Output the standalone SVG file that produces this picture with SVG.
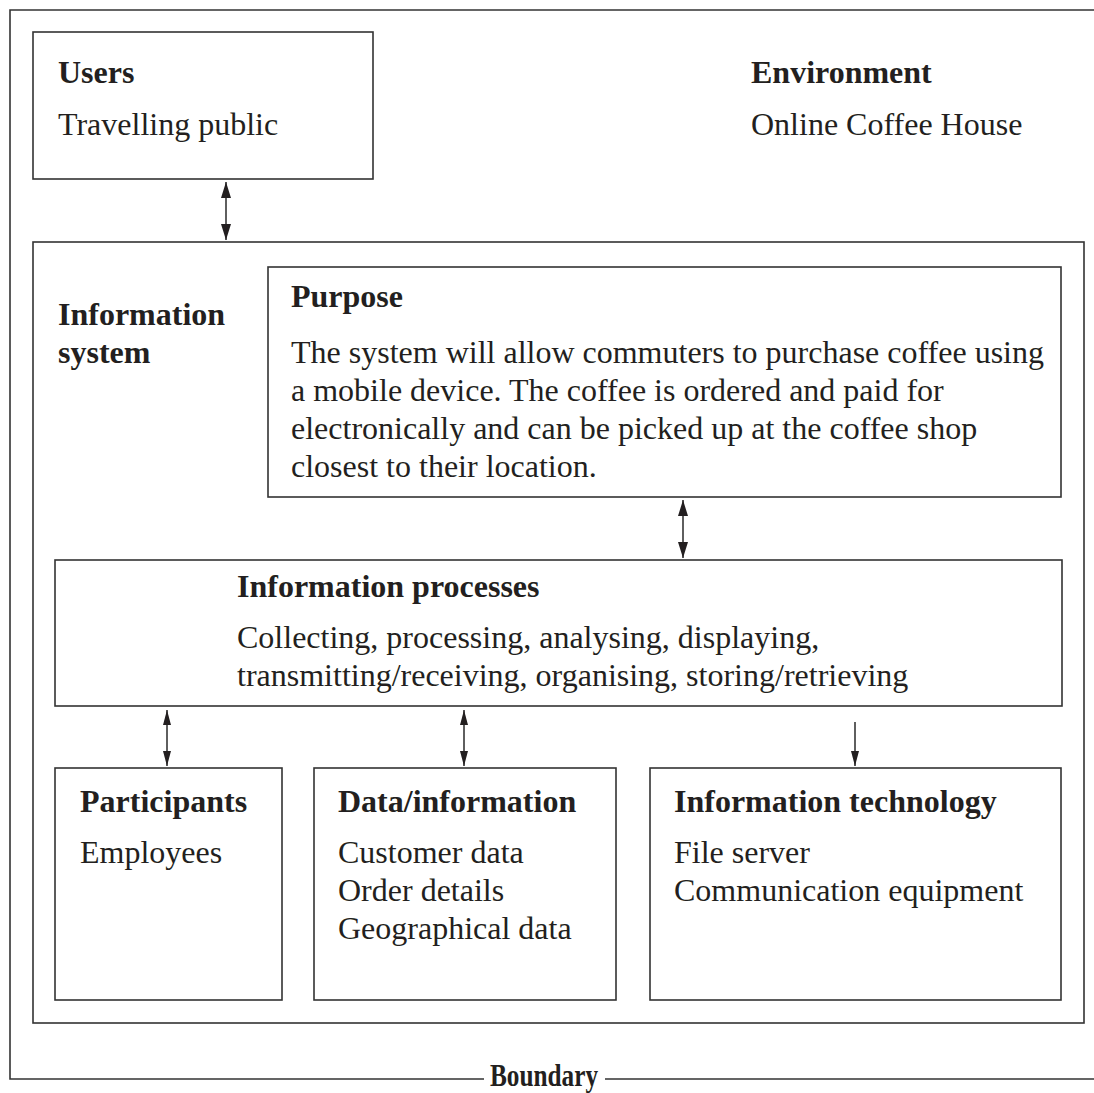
<svg xmlns="http://www.w3.org/2000/svg" width="1094" height="1093" viewBox="0 0 1094 1093">
<defs>
<style>
.box{fill:none;stroke:#333;stroke-width:1.6}
.ln{fill:none;stroke:#2a2a2a;stroke-width:1.5}
text{font-family:"Liberation Serif","Times New Roman",serif;font-size:32px;fill:#231f20}
.b{font-weight:bold}
</style>
<marker id="ah" viewBox="0 0 16 10" refX="16" refY="5" markerWidth="16" markerHeight="10" markerUnits="userSpaceOnUse" orient="auto-start-reverse">
<path d="M0,0 L16,5 L0,10 Z" fill="#231f20"/>
</marker>
<marker id="as" viewBox="0 0 15 8" refX="15" refY="4" markerWidth="15" markerHeight="8" markerUnits="userSpaceOnUse" orient="auto-start-reverse">
<path d="M0,0 L15,4 L0,8 Z" fill="#231f20"/>
</marker>
</defs>
<rect width="1094" height="1093" fill="#fff"/>
<g id="boundary">
<path class="box" d="M1094,10 H10 V1079 H484 M605,1079 H1094"/>
<text class="b" x="490" y="1086" textLength="108" lengthAdjust="spacingAndGlyphs">Boundary</text>
</g>
<g id="users">
<rect class="box" x="33" y="32" width="340" height="147"/>
<text class="b" x="58" y="83">Users</text>
<text x="58" y="135">Travelling public</text>
</g>
<g id="environment">
<text class="b" x="751" y="83">Environment</text>
<text x="751" y="135">Online Coffee House</text>
</g>
<g id="information-system">
<rect class="box" x="33" y="242" width="1051" height="781"/>
<text class="b" x="58" y="325">Information</text>
<text class="b" x="58" y="363">system</text>
</g>
<g id="purpose">
<rect class="box" x="268" y="267" width="793" height="230"/>
<text class="b" x="291" y="307">Purpose</text>
<text x="291" y="363">The system will allow commuters to purchase coffee using</text>
<text x="291" y="401">a mobile device. The coffee is ordered and paid for</text>
<text x="291" y="439">electronically and can be picked up at the coffee shop</text>
<text x="291" y="477">closest to their location.</text>
</g>
<g id="processes">
<rect class="box" x="55" y="560" width="1007" height="146"/>
<text class="b" x="237" y="597">Information processes</text>
<text x="237" y="648">Collecting, processing, analysing, displaying,</text>
<text x="237" y="686">transmitting/receiving, organising, storing/retrieving</text>
</g>
<g id="participants">
<rect class="box" x="55" y="768" width="227" height="232"/>
<text class="b" x="80" y="812">Participants</text>
<text x="80" y="863">Employees</text>
</g>
<g id="data">
<rect class="box" x="314" y="768" width="302" height="232"/>
<text class="b" x="338" y="812">Data/information</text>
<text x="338" y="863">Customer data</text>
<text x="338" y="901">Order details</text>
<text x="338" y="939">Geographical data</text>
</g>
<g id="technology">
<rect class="box" x="650" y="768" width="411" height="232"/>
<text class="b" x="674" y="812">Information technology</text>
<text x="674" y="863">File server</text>
<text x="674" y="901">Communication equipment</text>
</g>
<g id="connectors">
<line class="ln" x1="226" y1="182" x2="226" y2="240" marker-start="url(#ah)" marker-end="url(#ah)"/>
<line class="ln" x1="683" y1="500" x2="683" y2="558" marker-start="url(#ah)" marker-end="url(#ah)"/>
<line class="ln" x1="167" y1="710" x2="167" y2="766" marker-start="url(#as)" marker-end="url(#as)"/>
<line class="ln" x1="464" y1="710" x2="464" y2="766" marker-start="url(#as)" marker-end="url(#as)"/>
<line class="ln" x1="855" y1="722" x2="855" y2="766" marker-end="url(#as)"/>
</g>
</svg>
